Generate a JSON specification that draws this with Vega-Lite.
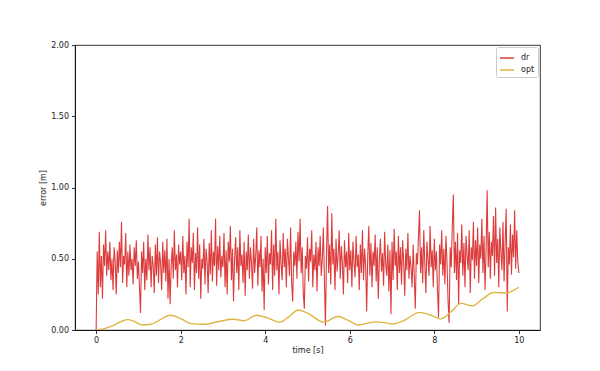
{
"$schema": "https://vega.github.io/schema/vega-lite/v6.json",
"width": 465, "height": 285,
"autosize": {"type": "none"},
"padding": {"left": 75, "top": 45, "right": 60, "bottom": 41},
"background": "white",
"config": {
 "font": "DejaVu Sans",
 "view": {"stroke": "#000", "strokeWidth": 0.8},
 "axis": {"grid": false, "domainColor": "#000", "domainWidth": 0.8, "tickColor": "#000", "tickWidth": 0.8, "tickSize": 3.5, "labelFontSize": 8, "titleFontSize": 8, "titleFontWeight": "normal", "labelColor": "#222", "titleColor": "#222", "labelPadding": 3},
 "legend": {"orient": "top-right", "offset": 2, "strokeColor": "#ccc", "fillColor": "white", "padding": 3, "cornerRadius": 2, "labelFontSize": 8, "symbolType": "stroke", "symbolSize": 196, "symbolStrokeWidth": 1.5, "rowPadding": -3, "labelOffset": 6, "labelColor": "#222"}
},
"datasets": {
 "dr": [
{"t":0,"e":0.00},{"t":0.025,"e":0.55},{"t":0.05,"e":0.25},{"t":0.075,"e":0.69},{"t":0.1,"e":0.30},{"t":0.125,"e":0.52},{"t":0.15,"e":0.22},{"t":0.175,"e":0.60},{"t":0.2,"e":0.45},{"t":0.225,"e":0.70},
{"t":0.25,"e":0.38},{"t":0.275,"e":0.55},{"t":0.3,"e":0.42},{"t":0.325,"e":0.62},{"t":0.35,"e":0.35},{"t":0.375,"e":0.50},{"t":0.4,"e":0.28},{"t":0.425,"e":0.58},{"t":0.45,"e":0.48},{"t":0.475,"e":0.25},
{"t":0.5,"e":0.56},{"t":0.525,"e":0.40},{"t":0.55,"e":0.62},{"t":0.575,"e":0.44},{"t":0.6,"e":0.76},{"t":0.625,"e":0.33},{"t":0.65,"e":0.52},{"t":0.675,"e":0.46},{"t":0.7,"e":0.68},{"t":0.725,"e":0.30},
{"t":0.75,"e":0.55},{"t":0.775,"e":0.38},{"t":0.8,"e":0.60},{"t":0.825,"e":0.42},{"t":0.85,"e":0.50},{"t":0.875,"e":0.32},{"t":0.9,"e":0.58},{"t":0.925,"e":0.45},{"t":0.95,"e":0.63},{"t":0.975,"e":0.36},
{"t":1.0,"e":0.48},{"t":1.025,"e":0.30},{"t":1.05,"e":0.12},{"t":1.075,"e":0.55},{"t":1.1,"e":0.40},{"t":1.125,"e":0.62},{"t":1.15,"e":0.28},{"t":1.175,"e":0.50},{"t":1.2,"e":0.35},{"t":1.225,"e":0.67},
{"t":1.25,"e":0.42},{"t":1.275,"e":0.58},{"t":1.3,"e":0.30},{"t":1.325,"e":0.52},{"t":1.35,"e":0.45},{"t":1.375,"e":0.26},{"t":1.4,"e":0.60},{"t":1.425,"e":0.38},{"t":1.45,"e":0.65},{"t":1.475,"e":0.33},
{"t":1.5,"e":0.55},{"t":1.525,"e":0.47},{"t":1.55,"e":0.28},{"t":1.575,"e":0.62},{"t":1.6,"e":0.40},{"t":1.625,"e":0.56},{"t":1.65,"e":0.34},{"t":1.675,"e":0.64},{"t":1.7,"e":0.22},{"t":1.725,"e":0.50},
{"t":1.75,"e":0.18},{"t":1.775,"e":0.45},{"t":1.8,"e":0.58},{"t":1.825,"e":0.36},{"t":1.85,"e":0.70},{"t":1.875,"e":0.42},{"t":1.9,"e":0.53},{"t":1.925,"e":0.30},{"t":1.95,"e":0.60},{"t":1.975,"e":0.46},
{"t":2.0,"e":0.55},{"t":2.025,"e":0.35},{"t":2.05,"e":0.66},{"t":2.075,"e":0.40},{"t":2.1,"e":0.52},{"t":2.125,"e":0.25},{"t":2.15,"e":0.62},{"t":2.175,"e":0.44},{"t":2.2,"e":0.78},{"t":2.225,"e":0.30},
{"t":2.25,"e":0.58},{"t":2.275,"e":0.47},{"t":2.3,"e":0.68},{"t":2.325,"e":0.28},{"t":2.35,"e":0.54},{"t":2.375,"e":0.40},{"t":2.4,"e":0.72},{"t":2.425,"e":0.36},{"t":2.45,"e":0.60},{"t":2.475,"e":0.22},
{"t":2.5,"e":0.50},{"t":2.525,"e":0.43},{"t":2.55,"e":0.64},{"t":2.575,"e":0.32},{"t":2.6,"e":0.57},{"t":2.625,"e":0.48},{"t":2.65,"e":0.26},{"t":2.675,"e":0.61},{"t":2.7,"e":0.39},{"t":2.725,"e":0.70},
{"t":2.75,"e":0.34},{"t":2.775,"e":0.55},{"t":2.8,"e":0.45},{"t":2.825,"e":0.78},{"t":2.85,"e":0.31},{"t":2.875,"e":0.59},{"t":2.9,"e":0.42},{"t":2.925,"e":0.66},{"t":2.95,"e":0.37},{"t":2.975,"e":0.52},
{"t":3.0,"e":0.44},{"t":3.025,"e":0.68},{"t":3.05,"e":0.30},{"t":3.075,"e":0.56},{"t":3.1,"e":0.25},{"t":3.125,"e":0.62},{"t":3.15,"e":0.48},{"t":3.175,"e":0.73},{"t":3.2,"e":0.35},{"t":3.225,"e":0.57},
{"t":3.25,"e":0.20},{"t":3.275,"e":0.50},{"t":3.3,"e":0.65},{"t":3.325,"e":0.40},{"t":3.35,"e":0.58},{"t":3.375,"e":0.28},{"t":3.4,"e":0.70},{"t":3.425,"e":0.45},{"t":3.45,"e":0.53},{"t":3.475,"e":0.33},
{"t":3.5,"e":0.62},{"t":3.525,"e":0.24},{"t":3.55,"e":0.55},{"t":3.575,"e":0.42},{"t":3.6,"e":0.67},{"t":3.625,"e":0.36},{"t":3.65,"e":0.58},{"t":3.675,"e":0.47},{"t":3.7,"e":0.29},{"t":3.725,"e":0.64},
{"t":3.75,"e":0.40},{"t":3.775,"e":0.52},{"t":3.8,"e":0.72},{"t":3.825,"e":0.31},{"t":3.85,"e":0.56},{"t":3.875,"e":0.44},{"t":3.9,"e":0.66},{"t":3.925,"e":0.27},{"t":3.95,"e":0.50},{"t":3.975,"e":0.14},
{"t":4.0,"e":0.58},{"t":4.025,"e":0.40},{"t":4.05,"e":0.66},{"t":4.075,"e":0.32},{"t":4.1,"e":0.54},{"t":4.125,"e":0.46},{"t":4.15,"e":0.70},{"t":4.175,"e":0.28},{"t":4.2,"e":0.60},{"t":4.225,"e":0.38},
{"t":4.25,"e":0.78},{"t":4.275,"e":0.42},{"t":4.3,"e":0.55},{"t":4.325,"e":0.25},{"t":4.35,"e":0.63},{"t":4.375,"e":0.47},{"t":4.4,"e":0.35},{"t":4.425,"e":0.68},{"t":4.45,"e":0.44},{"t":4.475,"e":0.57},
{"t":4.5,"e":0.30},{"t":4.525,"e":0.64},{"t":4.55,"e":0.50},{"t":4.575,"e":0.38},{"t":4.6,"e":0.72},{"t":4.625,"e":0.33},{"t":4.65,"e":0.20},{"t":4.675,"e":0.55},{"t":4.7,"e":0.45},{"t":4.725,"e":0.62},
{"t":4.75,"e":0.36},{"t":4.775,"e":0.69},{"t":4.8,"e":0.48},{"t":4.825,"e":0.78},{"t":4.85,"e":0.40},{"t":4.875,"e":0.58},{"t":4.9,"e":0.26},{"t":4.925,"e":0.15},{"t":4.95,"e":0.52},{"t":4.975,"e":0.43},
{"t":5.0,"e":0.65},{"t":5.025,"e":0.34},{"t":5.05,"e":0.57},{"t":5.075,"e":0.48},{"t":5.1,"e":0.70},{"t":5.125,"e":0.30},{"t":5.15,"e":0.53},{"t":5.175,"e":0.42},{"t":5.2,"e":0.62},{"t":5.225,"e":0.27},
{"t":5.25,"e":0.58},{"t":5.275,"e":0.45},{"t":5.3,"e":0.66},{"t":5.325,"e":0.38},{"t":5.35,"e":0.50},{"t":5.375,"e":0.72},{"t":5.4,"e":0.35},{"t":5.425,"e":0.03},{"t":5.45,"e":0.55},{"t":5.475,"e":0.87},
{"t":5.5,"e":0.40},{"t":5.525,"e":0.60},{"t":5.55,"e":0.32},{"t":5.575,"e":0.82},{"t":5.6,"e":0.46},{"t":5.625,"e":0.57},{"t":5.65,"e":0.28},{"t":5.675,"e":0.64},{"t":5.7,"e":0.41},{"t":5.725,"e":0.52},
{"t":5.75,"e":0.70},{"t":5.775,"e":0.36},{"t":5.8,"e":0.59},{"t":5.825,"e":0.47},{"t":5.85,"e":0.25},{"t":5.875,"e":0.63},{"t":5.9,"e":0.44},{"t":5.925,"e":0.55},{"t":5.95,"e":0.33},{"t":5.975,"e":0.68},
{"t":6.0,"e":0.42},{"t":6.025,"e":0.56},{"t":6.05,"e":0.30},{"t":6.075,"e":0.62},{"t":6.1,"e":0.48},{"t":6.125,"e":0.37},{"t":6.15,"e":0.66},{"t":6.175,"e":0.44},{"t":6.2,"e":0.53},{"t":6.225,"e":0.28},
{"t":6.25,"e":0.60},{"t":6.275,"e":0.40},{"t":6.3,"e":0.70},{"t":6.325,"e":0.35},{"t":6.35,"e":0.57},{"t":6.375,"e":0.46},{"t":6.4,"e":0.13},{"t":6.425,"e":0.52},{"t":6.45,"e":0.73},{"t":6.475,"e":0.38},
{"t":6.5,"e":0.61},{"t":6.525,"e":0.30},{"t":6.55,"e":0.55},{"t":6.575,"e":0.45},{"t":6.6,"e":0.67},{"t":6.625,"e":0.34},{"t":6.65,"e":0.58},{"t":6.675,"e":0.22},{"t":6.7,"e":0.50},{"t":6.725,"e":0.64},
{"t":6.75,"e":0.41},{"t":6.775,"e":0.54},{"t":6.8,"e":0.31},{"t":6.825,"e":0.69},{"t":6.85,"e":0.46},{"t":6.875,"e":0.38},{"t":6.9,"e":0.60},{"t":6.925,"e":0.27},{"t":6.95,"e":0.56},{"t":6.975,"e":0.11},
{"t":7.0,"e":0.62},{"t":7.025,"e":0.35},{"t":7.05,"e":0.71},{"t":7.075,"e":0.45},{"t":7.1,"e":0.55},{"t":7.125,"e":0.28},{"t":7.15,"e":0.66},{"t":7.175,"e":0.40},{"t":7.2,"e":0.58},{"t":7.225,"e":0.32},
{"t":7.25,"e":0.63},{"t":7.275,"e":0.48},{"t":7.3,"e":0.24},{"t":7.325,"e":0.57},{"t":7.35,"e":0.42},{"t":7.375,"e":0.68},{"t":7.4,"e":0.36},{"t":7.425,"e":0.52},{"t":7.45,"e":0.44},{"t":7.475,"e":0.30},
{"t":7.5,"e":0.60},{"t":7.525,"e":0.38},{"t":7.55,"e":0.15},{"t":7.575,"e":0.54},{"t":7.6,"e":0.46},{"t":7.625,"e":0.65},{"t":7.65,"e":0.84},{"t":7.675,"e":0.40},{"t":7.7,"e":0.58},{"t":7.725,"e":0.33},
{"t":7.75,"e":0.70},{"t":7.775,"e":0.47},{"t":7.8,"e":0.26},{"t":7.825,"e":0.62},{"t":7.85,"e":0.50},{"t":7.875,"e":0.38},{"t":7.9,"e":0.73},{"t":7.925,"e":0.44},{"t":7.95,"e":0.56},{"t":7.975,"e":0.30},
{"t":8.0,"e":0.64},{"t":8.025,"e":0.42},{"t":8.05,"e":0.55},{"t":8.075,"e":0.28},{"t":8.1,"e":0.09},{"t":8.125,"e":0.60},{"t":8.15,"e":0.46},{"t":8.175,"e":0.70},{"t":8.2,"e":0.38},{"t":8.225,"e":0.57},
{"t":8.25,"e":0.32},{"t":8.275,"e":0.66},{"t":8.3,"e":0.48},{"t":8.325,"e":0.20},{"t":8.35,"e":0.05},{"t":8.375,"e":0.58},{"t":8.4,"e":0.44},{"t":8.425,"e":0.72},{"t":8.45,"e":0.95},{"t":8.475,"e":0.40},
{"t":8.5,"e":0.62},{"t":8.525,"e":0.35},{"t":8.55,"e":0.68},{"t":8.575,"e":0.18},{"t":8.6,"e":0.56},{"t":8.625,"e":0.47},{"t":8.65,"e":0.74},{"t":8.675,"e":0.38},{"t":8.7,"e":0.61},{"t":8.725,"e":0.30},
{"t":8.75,"e":0.66},{"t":8.775,"e":0.52},{"t":8.8,"e":0.42},{"t":8.825,"e":0.70},{"t":8.85,"e":0.26},{"t":8.875,"e":0.58},{"t":8.9,"e":0.49},{"t":8.925,"e":0.76},{"t":8.95,"e":0.36},{"t":8.975,"e":0.63},
{"t":9.0,"e":0.45},{"t":9.025,"e":0.72},{"t":9.05,"e":0.33},{"t":9.075,"e":0.60},{"t":9.1,"e":0.50},{"t":9.125,"e":0.78},{"t":9.15,"e":0.40},{"t":9.175,"e":0.66},{"t":9.2,"e":0.28},{"t":9.225,"e":0.57},
{"t":9.25,"e":0.98},{"t":9.275,"e":0.44},{"t":9.3,"e":0.69},{"t":9.325,"e":0.36},{"t":9.35,"e":0.62},{"t":9.375,"e":0.52},{"t":9.4,"e":0.80},{"t":9.425,"e":0.38},{"t":9.45,"e":0.86},{"t":9.475,"e":0.47},
{"t":9.5,"e":0.64},{"t":9.525,"e":0.30},{"t":9.55,"e":0.72},{"t":9.575,"e":0.55},{"t":9.6,"e":0.42},{"t":9.625,"e":0.76},{"t":9.65,"e":0.34},{"t":9.675,"e":0.61},{"t":9.7,"e":0.85},{"t":9.725,"e":0.13},
{"t":9.75,"e":0.58},{"t":9.775,"e":0.46},{"t":9.8,"e":0.74},{"t":9.825,"e":0.39},{"t":9.85,"e":0.67},{"t":9.875,"e":0.51},{"t":9.9,"e":0.84},{"t":9.925,"e":0.43},{"t":9.95,"e":0.70},{"t":9.975,"e":0.48},
{"t":10.0,"e":0.40}
 ],
 "opt": [
{"t":0,"e":0.0},{"t":0.2,"e":0.01},{"t":0.4,"e":0.03},{"t":0.6,"e":0.06},{"t":0.75,"e":0.073},{"t":0.9,"e":0.06},{"t":1.1,"e":0.035},{"t":1.3,"e":0.04},{"t":1.5,"e":0.07},{"t":1.75,"e":0.103},
{"t":2.0,"e":0.08},{"t":2.25,"e":0.045},{"t":2.55,"e":0.04},{"t":2.9,"e":0.06},{"t":3.25,"e":0.075},{"t":3.5,"e":0.065},{"t":3.8,"e":0.103},{"t":4.05,"e":0.085},{"t":4.35,"e":0.055},{"t":4.55,"e":0.09},
{"t":4.78,"e":0.14},{"t":5.05,"e":0.11},{"t":5.38,"e":0.055},{"t":5.72,"e":0.095},{"t":5.95,"e":0.07},{"t":6.2,"e":0.035},{"t":6.6,"e":0.057},{"t":6.85,"e":0.05},{"t":7.0,"e":0.042},{"t":7.3,"e":0.07},
{"t":7.65,"e":0.124},{"t":7.9,"e":0.105},{"t":8.15,"e":0.078},{"t":8.4,"e":0.13},{"t":8.63,"e":0.187},{"t":8.9,"e":0.17},{"t":9.15,"e":0.22},{"t":9.4,"e":0.263},{"t":9.7,"e":0.26},{"t":9.85,"e":0.275},{"t":10.0,"e":0.30}
 ]
},
"layer": [
 {"data": {"name": "dr"}, "mark": {"type": "line", "strokeWidth": 1.1, "clip": true},
  "encoding": {
   "x": {"field": "t", "type": "quantitative", "scale": {"domain": [-0.5, 10.5], "nice": false, "zero": false}, "axis": {"values": [0,2,4,6,8,10], "title": "time [s]", "format": "d", "titlePadding": 2}},
   "y": {"field": "e", "type": "quantitative", "scale": {"domain": [0, 2], "nice": false}, "axis": {"values": [0,0.25,0.5,0.75,1,1.25,1.5,1.75,2], "format": ".2f", "title": "error [m]", "titlePadding": 3}},
   "color": {"datum": "dr", "type": "nominal", "scale": {"domain": ["dr", "opt"], "range": ["#dd3c3c", "#e0b444"]}, "legend": {"title": null}}
  }},
 {"data": {"name": "opt"}, "mark": {"type": "line", "strokeWidth": 1.4, "interpolate": "monotone", "clip": true},
  "encoding": {
   "x": {"field": "t", "type": "quantitative"},
   "y": {"field": "e", "type": "quantitative"},
   "color": {"datum": "opt", "type": "nominal"}
  }}
]
}
